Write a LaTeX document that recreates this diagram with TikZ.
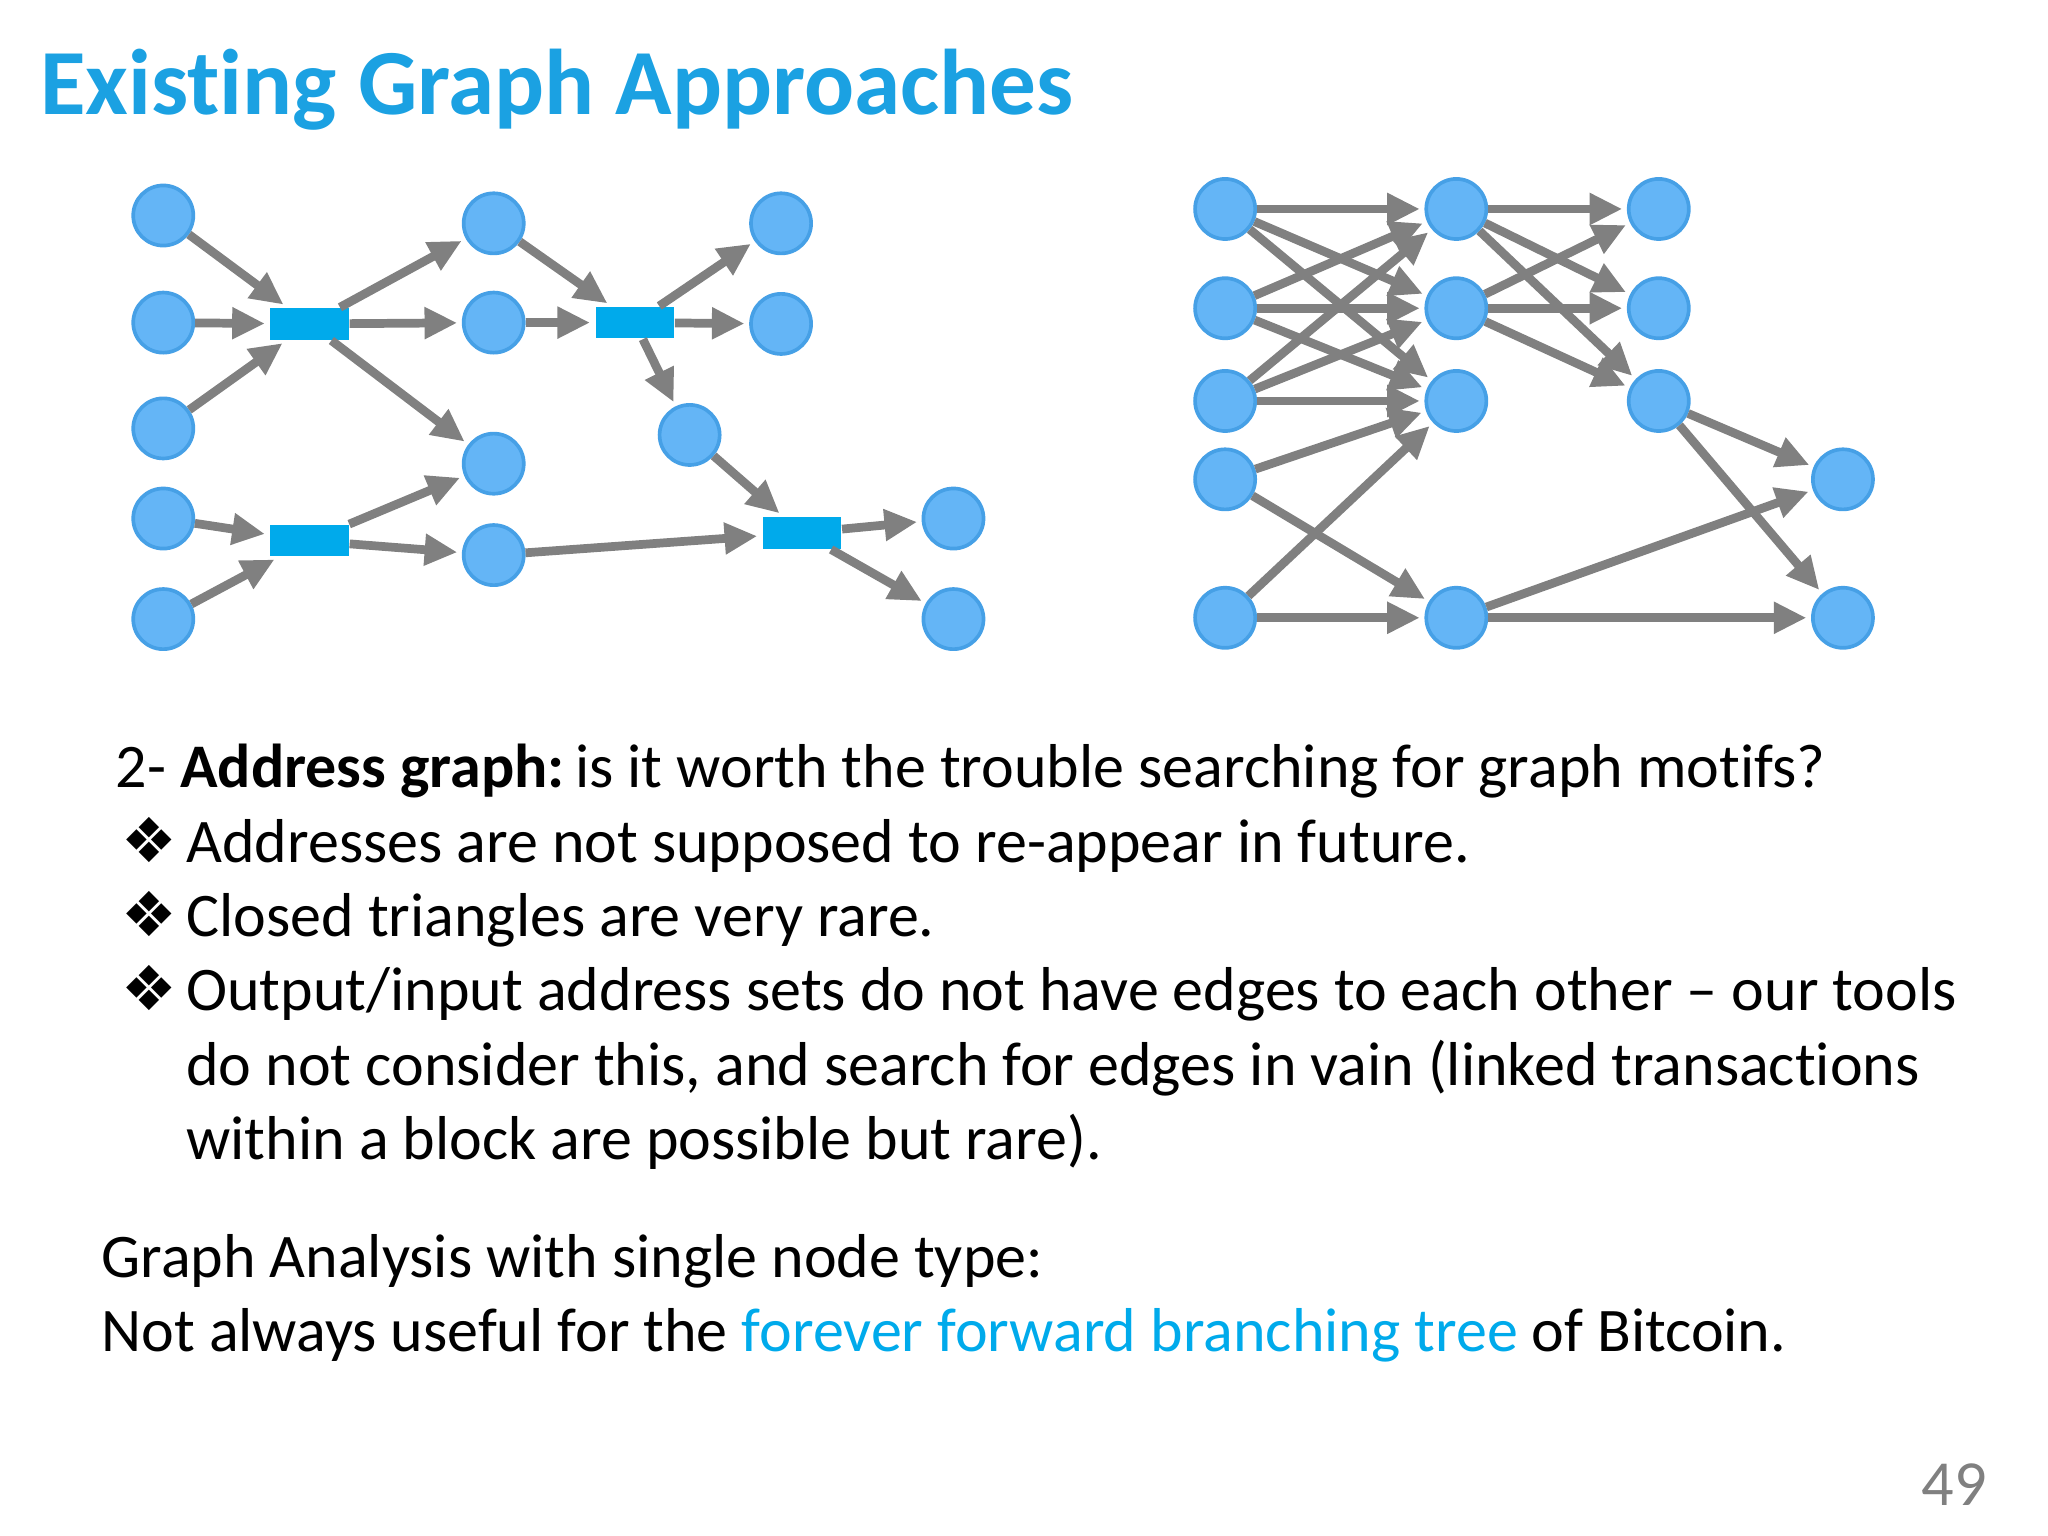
\documentclass[tikz,border=0pt]{standalone}
\usepackage{fontspec}
\setmainfont{Carlito}[Ligatures={NoCommon}]
\newfontfamily\dejavu{DejaVu Sans}
\usetikzlibrary{arrows.meta}
\definecolor{ttl}{RGB}{27,161,226}
\definecolor{nfill}{RGB}{100,181,246}
\definecolor{nedge}{RGB}{70,160,230}
\definecolor{tx}{RGB}{0,170,235}
\definecolor{eg}{RGB}{128,128,128}
\tikzset{
 addr/.style={circle,fill=nfill,draw=nedge,line width=0.8pt,minimum size=0.46cm,inner sep=0pt},
 txn/.style={rectangle,fill=tx,minimum width=0.6cm,minimum height=0.24cm,inner sep=0pt},
 ed/.style={draw=eg,line width=1.9pt,-{Triangle[length=0.25cm,width=0.23cm]},shorten >=1pt},
 body/.style={anchor=base west,font=\fontsize{13.5}{15}\selectfont,inner sep=0pt}
}
\begin{document}
\begin{tikzpicture}[x=0.01cm,y=-0.01cm]
\useasboundingbox (0,0) rectangle (1568,1176);
\node[anchor=base west,inner sep=0pt,text=ttl,font=\fontsize{20.3}{22}\selectfont\bfseries] (title) at (30,88) {Existing Graph Approaches};
% left graph
\foreach \n/\x/\y in {a1/125/165,a2/125/247,a3/125/328,a4/125/397,a5/125/474,b1/378/171,b2/378/247,b3/378/355,b4/378/425,c1/598/171,c2/598/248,c3/528/333,d1/730/397,d2/730/474}
  \node[addr] (\n) at (\x,\y) {};
\foreach \n/\x/\y in {t1/237/248,t2/237/414,t3/486/247,t4/614/408}
  \node[txn] (\n) at (\x,\y) {};
\foreach \s/\t in {a1/t1,a2/t1,a3/t1,t1/b1,t1/b2,t1/b3,a4/t2,a5/t2,t2/b3,t2/b4,b1/t3,b2/t3,t3/c1,t3/c2,t3/c3,c3/t4,b4/t4,t4/d1,t4/d2}
  \draw[ed] (\s) -- (\t);
% right graph
\foreach \n/\x/\y in {r1/938/160,r2/938/236,r3/938/307,r4/938/367,r5/938/473,s1/1115/160,s2/1115/236,s3/1115/307,s5/1115/473,u1/1270/160,u2/1270/236,u3/1270/307,v1/1411/367,v2/1411/473}
  \node[addr] (\n) at (\x,\y) {};
\foreach \s/\t in {r1/s1,r1/s2,r1/s3,r2/s1,r2/s2,r2/s3,r3/s1,r3/s3,r3/s2,r4/s3,r4/s5,r5/s3,r5/s5,s1/u1,s1/u2,s1/u3,s2/u1,s2/u2,s2/u3,u3/v1,u3/v2,s5/v1,s5/v2}
  \draw[ed] (\s) -- (\t);
% text
\node[body] (l0) at (88,603) {2- \textbf{Address graph:}\,is it worth the trouble searching for graph motifs?};
\foreach \i/\y/\t in {1/660/{Addresses are not supposed to re-appear in future.},2/717/{Closed triangles are very rare.},3/774/{Output/input address sets do not have edges to each other -- our tools}}{
  \node[body] (bul\i) at (92,\y) {\dejavu ❖};
  \node[body] (l\i) at (142,\y) {\t};
}
\node[body] (l4) at (142,831) {do not consider this, and search for edges in vain (linked transactions};
\node[body] (l5) at (142,888) {within a block are possible but rare).};
\node[body] (m1) at (77,978) {Graph Analysis with single node type:};
\node[body] (m2) at (77,1035) {Not always useful for the \textcolor{tx}{forever forward branching tree} of Bitcoin.};
\node[anchor=base east,inner sep=0pt,text=gray,font=\fontsize{14}{16}\selectfont] (pg) at (1522,1153) {49};
\end{tikzpicture}
\end{document}
